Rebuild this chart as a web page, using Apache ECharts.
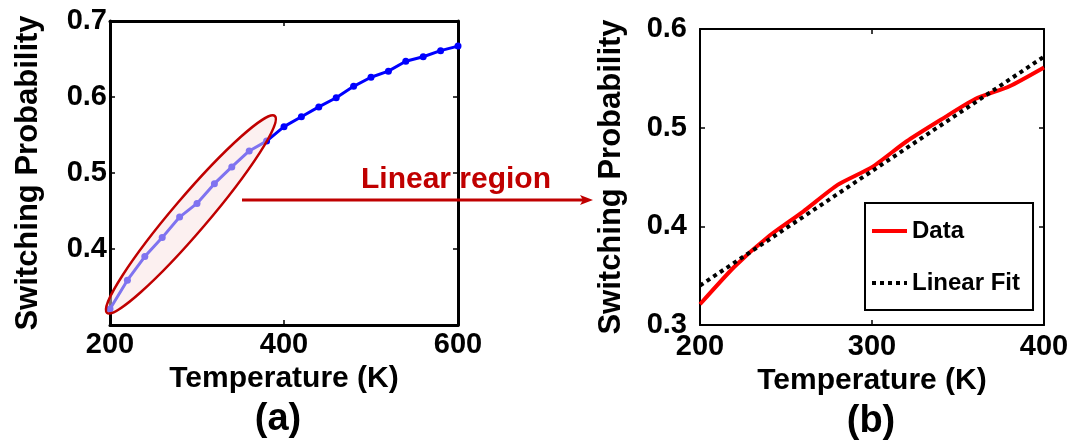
<!DOCTYPE html>
<html>
<head>
<meta charset="utf-8">
<script src="https://cdn.jsdelivr.net/npm/echarts@6/dist/echarts.min.js"></script>
<style>
  html, body { margin: 0; padding: 0; background: #fff; }
  #main { width: 1081px; height: 443px; }
</style>
</head>
<body>
<div id="main"></div>
<script>
// temperature sweep (K) and switching probability
const temps = [200, 220, 240, 260, 280, 300, 320, 340, 360, 380, 400,
               420, 440, 460, 480, 500, 520, 540, 560, 580, 600];
const probs = [0.321, 0.359, 0.390, 0.415, 0.442, 0.460, 0.486, 0.508, 0.529, 0.542, 0.561,
               0.574, 0.587, 0.599, 0.614, 0.626, 0.634, 0.647, 0.653, 0.661, 0.667];

// panel (b): linear part only, plus the fitted straight line
const linTemps = temps.slice(0, 11);
const linProbs = probs.slice(0, 11);
const fitTemps = [200, 400];
const fitProbs = [0.340, 0.572];

// ellipse that marks the linear region, given as its two tips in data units
const ellipseTips = [[196.5, 0.316], [389.5, 0.575]];

const FONT = 'Liberation Sans, Arial, sans-serif';
const DARK_RED = '#c00000';

const pairs = (xs, ys) => xs.map((x, i) => [x, ys[i]]);
const fmt1 = v => v.toFixed(1);

function boxAxis(grid, pos, min, max, interval, width) {
  return {
    type: 'value',
    gridIndex: grid,
    position: pos,
    min: min,
    max: max,
    interval: interval,
    splitLine: { show: false },
    axisLine: { show: true, onZero: false, lineStyle: { color: '#000', width: width } },
    axisTick: { show: true, inside: true, length: 5, lineStyle: { color: '#000', width: 1.5 } },
    axisLabel: { show: false }
  };
}

const chartDom = document.getElementById('main');
const myChart = echarts.init(chartDom, null, { renderer: 'canvas' });

const tickFont = { fontFamily: FONT, fontWeight: 'bold', fontSize: 29, color: '#000' };
const nameFont = { fontFamily: FONT, fontWeight: 'bold', fontSize: 31, color: '#000' };

const xA = boxAxis(0, 'bottom', 200, 600, 200, 3);
xA.axisLabel = Object.assign({ show: true, margin: 5, formatter: v => String(v) }, tickFont);
xA.name = 'Temperature (K)';
xA.nameLocation = 'middle';
xA.nameGap = 37;
xA.nameTextStyle = Object.assign({}, nameFont, { fontSize: 30 });

const yA = boxAxis(0, 'left', 0.3, 0.7, 0.1, 3);
yA.axisLabel = Object.assign({ show: true, margin: 3, showMinLabel: false, formatter: fmt1 }, tickFont);
yA.name = 'Switching Probability';
yA.nameLocation = 'middle';
yA.nameGap = 66;
yA.nameTextStyle = nameFont;

const xB = boxAxis(1, 'bottom', 200, 400, 100, 2);
xB.axisLabel = Object.assign({ show: true, margin: 7, formatter: v => String(v) }, tickFont);
xB.name = 'Temperature (K)';
xB.nameLocation = 'middle';
xB.nameGap = 41;
xB.nameTextStyle = Object.assign({}, nameFont, { fontSize: 30 });

const yB = boxAxis(1, 'left', 0.3, 0.6, 0.1, 2);
yB.axisLabel = Object.assign({ show: true, margin: 13, formatter: fmt1 }, tickFont);
yB.name = 'Switching Probability';
yB.nameLocation = 'middle';
yB.nameGap = 73;
yB.nameTextStyle = nameFont;

const option = {
  animation: false,
  backgroundColor: '#fff',
  grid: [
    { left: 110, top: 21, width: 348, height: 304 },
    { left: 700, top: 29, width: 344, height: 296 }
  ],
  xAxis: [
    xA,
    boxAxis(0, 'top', 200, 600, 200, 3),
    xB,
    boxAxis(1, 'top', 200, 400, 100, 2)
  ],
  yAxis: [
    yA,
    boxAxis(0, 'right', 0.3, 0.7, 0.1, 3),
    yB,
    boxAxis(1, 'right', 0.3, 0.6, 0.1, 2)
  ],
  legend: {
    data: ['Data', 'Linear Fit'],
    orient: 'vertical',
    left: 865,
    top: 203,
    itemWidth: 35,
    itemHeight: 14,
    itemGap: 24,
    padding: [14, 13, 13, 5],
    borderColor: '#000',
    borderWidth: 2,
    backgroundColor: '#fff',
    itemStyle: { opacity: 0 },
    lineStyle: { width: 4 },
    textStyle: { fontFamily: FONT, fontWeight: 'bold', fontSize: 24, color: '#000', lineHeight: 28 }
  },
  series: [
    {
      name: 'Sweep',
      type: 'line',
      xAxisIndex: 0,
      yAxisIndex: 0,
      data: pairs(temps, probs),
      symbol: 'circle',
      symbolSize: 7,
      itemStyle: { color: '#0000ff' },
      lineStyle: { color: '#0000ff', width: 3 }
    },
    {
      name: 'Data',
      type: 'line',
      xAxisIndex: 2,
      yAxisIndex: 2,
      data: pairs(linTemps, linProbs),
      smooth: 0.2,
      symbol: 'none',
      itemStyle: { color: '#ff0000' },
      lineStyle: { color: '#ff0000', width: 4 },
      z: 3
    },
    {
      name: 'Linear Fit',
      type: 'line',
      xAxisIndex: 2,
      yAxisIndex: 2,
      data: pairs(fitTemps, fitProbs),
      symbol: 'none',
      itemStyle: { color: '#000' },
      lineStyle: { color: '#000', width: 4, type: [4, 4] },
      z: 4
    }
  ]
};

myChart.setOption(option);

// annotations: ellipse over the linear part, arrow + label, panel letters
const p1 = myChart.convertToPixel({ gridIndex: 0 }, ellipseTips[0]);
const p2 = myChart.convertToPixel({ gridIndex: 0 }, ellipseTips[1]);
const cx = (p1[0] + p2[0]) / 2;
const cy = (p1[1] + p2[1]) / 2;
const rx = Math.hypot(p2[0] - p1[0], p2[1] - p1[1]) / 2;
const rot = Math.atan2(p1[1] - p2[1], p2[0] - p1[0]);

myChart.setOption({
  graphic: [
    {
      type: 'ellipse',
      x: cx,
      y: cy,
      rotation: rot,
      shape: { cx: 0, cy: 0, rx: rx, ry: 17.5 },
      style: { fill: 'rgba(249,226,226,0.51)', stroke: DARK_RED, lineWidth: 2.5 },
      z: 100
    },
    {
      type: 'line',
      shape: { x1: 242, y1: 200, x2: 584, y2: 200 },
      style: { stroke: DARK_RED, lineWidth: 3 },
      z: 100
    },
    {
      type: 'polygon',
      shape: { points: [[593, 200], [580, 195], [583, 200], [580, 205]] },
      style: { fill: DARK_RED },
      z: 100
    },
    {
      type: 'text',
      x: 456,
      y: 180,
      style: {
        text: 'Linear region', fill: DARK_RED,
        font: 'bold 30px ' + FONT, textAlign: 'center', textVerticalAlign: 'middle'
      },
      z: 100
    },
    {
      type: 'text',
      x: 278,
      y: 420,
      style: {
        text: '(a)', fill: '#000',
        font: 'bold 38px ' + FONT, textAlign: 'center', textVerticalAlign: 'middle'
      }
    },
    {
      type: 'text',
      x: 871,
      y: 422,
      style: {
        text: '(b)', fill: '#000',
        font: 'bold 38px ' + FONT, textAlign: 'center', textVerticalAlign: 'middle'
      }
    }
  ]
});

window.addEventListener('resize', () => myChart.resize());
</script>
</body>
</html>
